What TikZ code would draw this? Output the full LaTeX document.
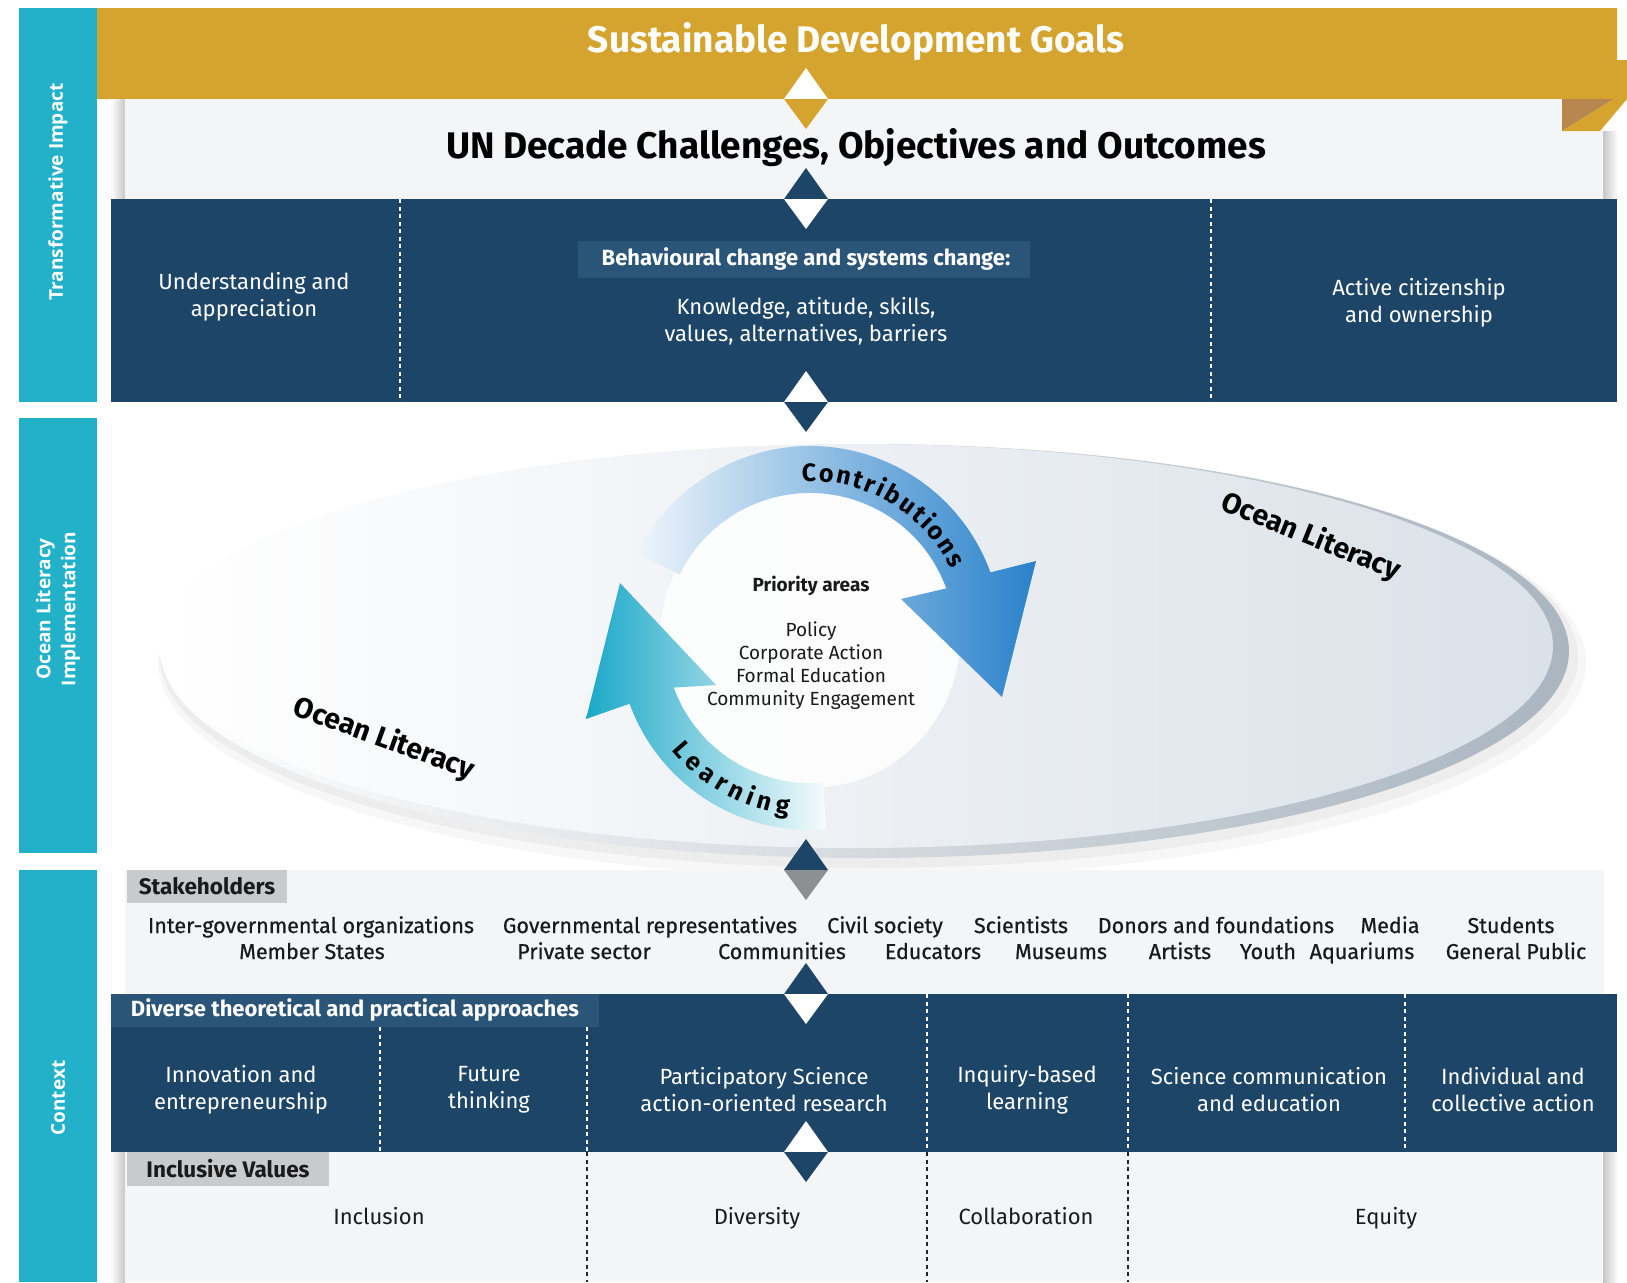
\documentclass[tikz,border=0pt]{standalone}
\usepackage{fontspec}
\setmainfont{Fira Sans}
\newfontfamily\medfont{Fira Sans}[FakeBold=0.6]
\newfontfamily\sidefont{Open Sans}
\usetikzlibrary{calc,decorations.text}
\definecolor{navy}{HTML}{1D4567}
\definecolor{navyhi}{HTML}{2B5479}
\definecolor{sdggold}{HTML}{D4A42E}
\definecolor{goldfold}{HTML}{B7874F}
\definecolor{sideteal}{HTML}{22B1C9}
\definecolor{panelbg}{HTML}{F3F5F7}
\definecolor{tagbg}{HTML}{C9CACC}
\definecolor{dgray}{HTML}{8E8F91}
\definecolor{arrblue}{HTML}{2A82CB}
\definecolor{arrteal}{HTML}{1AA8C8}
\definecolor{rimgray}{HTML}{AAB5C0}
\definecolor{facegray}{HTML}{DAE1E8}
\definecolor{inktext}{HTML}{1A1A1A}
\newcommand\dpair[4]{%
  \coordinate (#4) at (806,#1);
  \fill[#2] (806,#1-31) -- (828,#1) -- (784,#1) -- cycle;
  \fill[#3] (784,#1) -- (828,#1) -- (806,#1+30) -- cycle;}
\tikzset{
  wt/.style={text=white, inner sep=0pt, align=center, font=\fontsize{22}{27}\selectfont},
  bt/.style={text=inktext, inner sep=0pt, align=center, font=\fontsize{22}{26}\selectfont},
  sk/.style={text=inktext, inner sep=0pt, anchor=base, font=\medfont\fontsize{21.5}{21.5}\selectfont},
  tagtxt/.style={text=inktext, inner sep=0pt, font=\bfseries\fontsize{22.5}{22.5}\selectfont},
  side/.style={text=white, rotate=90, inner sep=0pt, align=center, font=\sidefont\bfseries\fontsize{19}{25}\selectfont},
  ol/.style={text=black, inner sep=0pt, font=\bfseries\fontsize{28.5}{28.5}\selectfont},
  ctr/.style={text=inktext, inner sep=0pt, align=center, font=\fontsize{19}{23}\selectfont},
  wdash/.style={white, line width=1.8pt, dash pattern=on 4pt off 3.5pt},
  kdash/.style={black!85, line width=1.8pt, dash pattern=on 4pt off 3.5pt}
}
\begin{document}
\begin{tikzpicture}[x=1pt,y=-1pt]
\useasboundingbox (0,0) rectangle (1627,1282);
\fill[white] (0,0) rectangle (1627,1282);
% ---- side bars
\fill[sideteal] (19,8) rectangle (97,402);
\fill[sideteal] (19,418) rectangle (97,853);
\fill[sideteal] (19,870) rectangle (97,1282);
\node[side] (sideA) at (58,192) {Transformative Impact};
\node[side] (sideB) at (58,609) {Ocean Literacy\\Implementation};
\node[side] (sideC) at (58,1098) {Context};
% ---- gold banner
\fill[sdggold] (97,8) -- (1617,8) -- (1617,60) -- (1627,60) -- (1627,99) -- (97,99) -- cycle;
\node[text=white, inner sep=0pt, font=\bfseries\fontsize{37}{37}\selectfont] (sdg) at (856,42) {Sustainable Development Goals};
% ---- UN decade panel
\shade[left color=white, right color=black!22] (111,99) rectangle (125,199);
\fill[panelbg] (125,99) rectangle (1603,199);
\shade[left color=black!22, right color=white] (1603,131) rectangle (1618,199);
\fill[goldfold] (1562,99) -- (1614,99) -- (1562,131) -- cycle;
\fill[sdggold] (1614,99) -- (1627,99) -- (1600,131) -- (1562,131) -- cycle;
\node[text=black, inner sep=0pt, font=\bfseries\fontsize{37}{37}\selectfont] (un) at (856,148) {UN Decade Challenges, Objectives and Outcomes};
% ---- behavioural band
\fill[navy] (111,199) rectangle (1617,402);
\draw[wdash] (400,199) -- (400,402);
\draw[wdash] (1211,199) -- (1211,402);
\fill[navyhi] (578,241) rectangle (1030,278);
\node[text=white, inner sep=0pt, font=\bfseries\fontsize{22}{22}\selectfont] (beh) at (806,259) {Behavioural change and systems change:};
\node[wt] (know) at (806,321) {Knowledge, atitude, skills,\\values, alternatives, barriers};
\node[wt] (under) at (254,297) {Understanding and\\appreciation};
\node[wt] (active) at (1419,303) {Active citizenship\\and ownership};
% ---- ellipse
\fill[black, opacity=0.03] (872,662) ellipse[x radius=714, y radius=216];
\fill[black, opacity=0.04] (869,657) ellipse[x radius=709, y radius=211];
\shade[left color=white, right color=rimgray] (865,651) ellipse[x radius=704, y radius=207];
\shade[left color=white, right color=facegray] (856,646) ellipse[x radius=697, y radius=202];
\node[ol, rotate=-20] (olL) at (384,739) {Ocean Literacy};
\node[ol, rotate=-22] (olR) at (1311,537) {Ocean Literacy};
% ---- cycle
\coordinate (C) at (810,638);
\fill[white, opacity=0.85] (C) circle[radius=150];
\shade[left color=arrblue!8, right color=arrblue, middle color=arrblue!55]
  ($(C)+(-154:192)$) arc[start angle=-154, end angle=-20, radius=192]
  -- (1036,561) -- (1002,697) -- (901,599)
  -- ($(C)+(-20:145)$) arc[start angle=-20, end angle=-154, radius=145] -- cycle;
\shade[left color=arrteal, middle color=arrteal!85, right color=arrteal!4]
  ($(C)+(85:192)$) arc[start angle=85, end angle=160, radius=192]
  -- (586,719) -- (620,583) -- (716,685)
  -- ($(C)+(160:145)$) arc[start angle=160, end angle=85, radius=145] -- cycle;
\path[decorate, decoration={text along path, text align={fit to path},
  text={|\bfseries\fontsize{25}{25}\selectfont|Contributions}}]
  ($(C)+(-93:157)$) arc[start angle=-93, end angle=-26, radius=157];
\path[decorate, decoration={text along path, text align={fit to path},
  text={|\bfseries\fontsize{25}{25}\selectfont|Learning}}]
  ($(C)+(141:178)$) arc[start angle=141, end angle=97, radius=178];
\node[ctr, font=\bfseries\fontsize{19}{23}\selectfont] (prio) at (811,586) {Priority areas};
\node[ctr, anchor=north] (areas) at (811,621) {Policy\\Corporate Action\\Formal Education\\Community Engagement};
% ---- stakeholders
\fill[panelbg] (125,870) rectangle (1604,994);
\fill[tagbg] (127,870) rectangle (287,903);
\node[tagtxt] (stk) at (207,886) {Stakeholders};
\node[sk] (sh1) at (311,933) {Inter-governmental organizations};
\node[sk] (sh2) at (650,933) {Governmental representatives};
\node[sk] (sh3) at (885,933) {Civil society};
\node[sk] (sh4) at (1021,933) {Scientists};
\node[sk] (sh5) at (1216,933) {Donors and foundations};
\node[sk] (sh6) at (1390,933) {Media};
\node[sk] (sh7) at (1511,933) {Students};
\node[sk] (sh8) at (312,959) {Member States};
\node[sk] (sh9) at (584,959) {Private sector};
\node[sk] (sh10) at (782,959) {Communities};
\node[sk] (sh11) at (933,959) {Educators};
\node[sk] (sh12) at (1061,959) {Museums};
\node[sk] (sh13) at (1180,959) {Artists};
\node[sk] (sh14) at (1268,959) {Youth};
\node[sk] (sh15) at (1362,959) {Aquariums};
\node[sk] (sh16) at (1516,959) {General Public};
% ---- approaches band
\fill[navy] (111,994) rectangle (1617,1152);
\fill[navyhi] (111,994) rectangle (599,1027);
\node[text=white, inner sep=0pt, font=\bfseries\fontsize{22}{22}\selectfont] (divh) at (355,1010) {Diverse theoretical and practical approaches};
\draw[wdash] (380,1027) -- (380,1152);
\draw[wdash] (587,1027) -- (587,1152);
\draw[wdash] (927,994) -- (927,1152);
\draw[wdash] (1128,994) -- (1128,1152);
\draw[wdash] (1405,994) -- (1405,1152);
\node[wt] (ap1) at (241,1090) {Innovation and\\entrepreneurship};
\node[wt] (ap2) at (489,1090) {Future\\thinking};
\node[wt] (ap3) at (764,1090) {Participatory Science\\action-oriented research};
\node[wt] (ap4) at (1027,1090) {Inquiry-based\\learning};
\node[wt] (ap5) at (1269,1090) {Science communication\\and education};
\node[wt] (ap6) at (1513,1090) {Individual and\\collective action};
% ---- inclusive values
\shade[left color=white, right color=black!22] (111,1152) rectangle (125,1282);
\fill[panelbg] (125,1152) rectangle (1603,1282);
\shade[left color=black!22, right color=white] (1603,1152) rectangle (1618,1282);
\fill[tagbg] (127,1152) rectangle (329,1186);
\node[tagtxt] (incv) at (228,1169) {Inclusive Values};
\draw[kdash] (587,1152) -- (587,1282);
\draw[kdash] (927,1152) -- (927,1282);
\draw[kdash] (1128,1152) -- (1128,1282);
\node[bt, anchor=base] (v1) at (379,1224) {Inclusion};
\node[bt, anchor=base] (v2) at (757,1224) {Diversity};
\node[bt, anchor=base] (v3) at (1026,1224) {Collaboration};
\node[bt, anchor=base] (v4) at (1386,1224) {Equity};
% ---- diamonds
\dpair{99}{white}{sdggold}{d1}
\dpair{199}{navy}{white}{d2}
\dpair{402}{white}{navy}{d3}
\dpair{870}{navy}{dgray}{d4}
\dpair{994}{navy}{white}{d5}
\dpair{1152}{white}{navy}{d6}
\end{tikzpicture}
\end{document}
